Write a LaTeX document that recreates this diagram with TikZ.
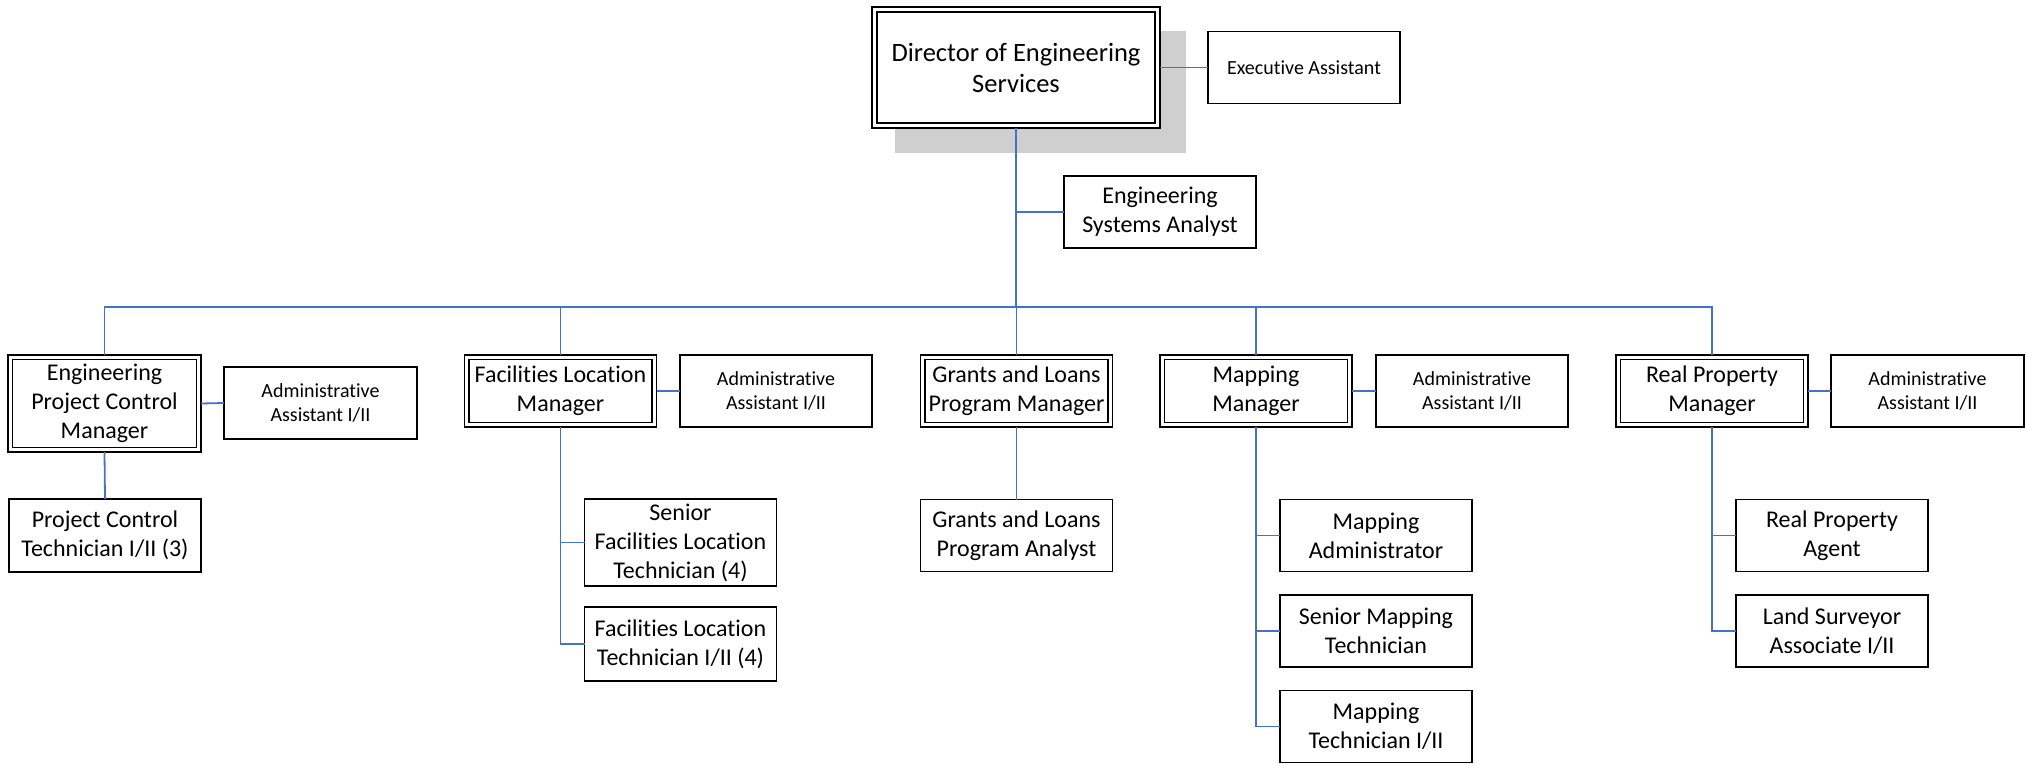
\documentclass[tikz,border=0pt]{standalone}
\usepackage{fontspec}
\setmainfont{Carlito}[Ligatures={CommonOff}]
\definecolor{connblue}{HTML}{4472C4}
\definecolor{shadowgray}{HTML}{CFCFCF}
\begin{document}
\begin{tikzpicture}[x=1pt,y=-1pt,
  box/.style={draw=black, line width=1.5pt, fill=white, minimum width=192pt, minimum height=72pt,
    inner sep=0pt, outer sep=0pt, align=center, text=black, font=\fontsize{24}{29}\selectfont},
  mgr/.style={box, line width=1.3pt,
    path picture={\draw[line width=1.8pt] ([shift={(4.5pt,-4.5pt)}]path picture bounding box.north west)
      rectangle ([shift={(-4.5pt,4.5pt)}]path picture bounding box.south east);}},
  dirbox/.style={box, line width=1.5pt, minimum width=288pt, minimum height=121pt,
    font=\fontsize{26.5}{31}\selectfont,
    path picture={\draw[line width=2.2pt] ([shift={(5pt,-5pt)}]path picture bounding box.north west)
      rectangle ([shift={(-5pt,5pt)}]path picture bounding box.south east);}},
  smallf/.style={font=\fontsize{20}{24}\selectfont},
  conn/.style={draw=connblue, line width=1.8pt},
  trunk/.style={draw=connblue, line width=2.6pt},
]
\useasboundingbox (0,0) rectangle (2026,763);

% shadow of director box
\fill[shadowgray] (895,31) rectangle (1186,153);

% top
\node[dirbox] (dir) at (1016,67.5) {Director of Engineering\\Services};
\node[box, smallf] (exec) at (1304,67.5) {Executive Assistant};
\node[box] (esa) at (1160,212) {Engineering\\Systems Analyst};

% managers
\node[mgr, minimum width=193pt, minimum height=97pt] (epc) at (104.5,403.5) {Engineering\\Project Control\\Manager};
\node[box, smallf, minimum width=193pt] (epca) at (320.5,403) {Administrative\\Assistant I/II};
\node[box, minimum height=73pt] (pct) at (105,535.5) {Project Control\\Technician I/II (3)};

\node[mgr] (flm) at (560.5,391) {Facilities Location\\Manager};
\node[box, smallf] (fla) at (776,391) {Administrative\\Assistant I/II};
\node[box, minimum height=87pt] (sflt) at (680.5,542.5) {Senior\\Facilities Location\\Technician (4)};
\node[box, minimum height=74pt] (flt) at (680.5,644) {Facilities Location\\Technician I/II (4)};

\node[mgr] (glm) at (1016.5,391) {Grants and Loans\\Program Manager};
\node[box] (gla) at (1016.5,535.5) {Grants and Loans\\Program Analyst};

\node[mgr] (mm) at (1256,391) {Mapping\\Manager};
\node[box, smallf] (mma) at (1472,391) {Administrative\\Assistant I/II};
\node[box] (madm) at (1376,535.5) {Mapping\\Administrator};
\node[box] (smt) at (1376,631) {Senior Mapping\\Technician};
\node[box] (mt) at (1376,726.5) {Mapping\\Technician I/II};

\node[mgr] (rpm) at (1712,391) {Real Property\\Manager};
\node[box, smallf, minimum width=193pt] (rpa) at (1927.5,391) {Administrative\\Assistant I/II};
\node[box] (rpag) at (1832,535.5) {Real Property\\Agent};
\node[box] (ls) at (1832,631) {Land Surveyor\\Associate I/II};

\coordinate (bus) at (1016.5,307);

% connectors
\draw[conn] (dir.east) -- (exec.west);
\draw[trunk] (dir.south) -- (dir.south |- bus);
\draw[conn] (esa.west) -- (esa.west -| dir.south);
\draw[conn] (epc.north) -- (epc.north |- bus) -- (rpm.north |- bus) -- (rpm.north);
\draw[conn] (flm.north) -- (flm.north |- bus);
\draw[conn] (glm.north) -- (glm.north |- bus);
\draw[conn] (mm.north) -- (mm.north |- bus);

\draw[conn] (epc.east) -- (epca.west);
\draw[conn] (flm.east) -- (fla.west);
\draw[conn] (mm.east) -- (mma.west);
\draw[conn] (rpm.east) -- (rpa.west);

\draw[conn] (epc.south) -- (pct.north);
\draw[conn] (flm.south) |- (sflt.west);
\draw[conn] (flm.south) |- (flt.west);
\draw[conn] (glm.south) -- (gla.north);
\draw[conn] (mm.south) |- (madm.west);
\draw[conn] (mm.south) |- (smt.west);
\draw[conn] (mm.south) |- (mt.west);
\draw[conn] (rpm.south) |- (rpag.west);
\draw[conn] (rpm.south) |- (ls.west);
\end{tikzpicture}
\end{document}
